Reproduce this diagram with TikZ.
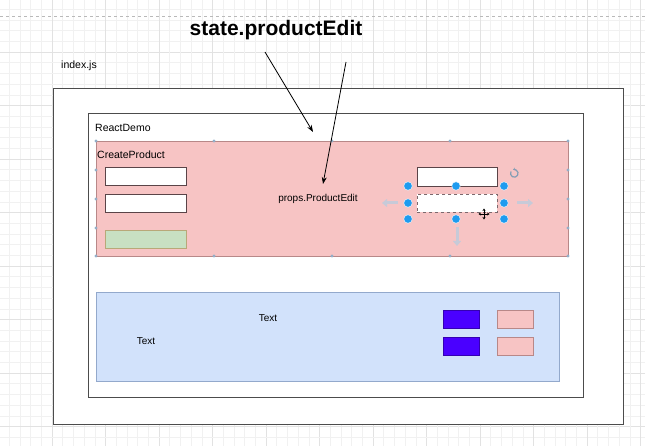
\documentclass[tikz,border=0pt]{standalone}
\usepackage{fontspec}
\setmainfont{Liberation Sans}
\usetikzlibrary{arrows.meta}
\definecolor{gridminor}{HTML}{F1F1F1}
\definecolor{gridmajor}{HTML}{E2E2E2}
\definecolor{pinkfill}{HTML}{F7C4C4}
\definecolor{pinkline}{HTML}{B88888}
\definecolor{bluefill}{HTML}{D2E2FB}
\definecolor{blueline}{HTML}{93A9CC}
\definecolor{greenfill}{HTML}{C8E0C2}
\definecolor{greenline}{HTML}{B8A878}
\definecolor{violet}{HTML}{4A00FF}
\definecolor{fieldline}{HTML}{5A4448}
\definecolor{handlec}{HTML}{1E9BEF}
\definecolor{dotc}{HTML}{92AEC8}
\definecolor{hintc}{HTML}{C7CAD8}

\begin{document}
\begin{tikzpicture}[x=1pt,y=-1pt,
	frame/.style={draw=black!70, fill=white, line width=0.9pt, anchor=north west, inner sep=0pt},
	panel/.style={anchor=north west, inner sep=0pt, line width=0.7pt},
	field/.style={draw=fieldline, fill=white, line width=0.9pt, anchor=north west, inner sep=0pt, minimum width=81, minimum height=18},
	chip/.style={anchor=north west, inner sep=0pt, line width=0.6pt, minimum width=36, minimum height=18},
	label/.style={font=\fontsize{10.5}{12}\selectfont, anchor=west, inner sep=0pt},
	handle/.style={circle, fill=handlec, draw=white, line width=0.4pt, inner sep=0pt, minimum size=8.5},
	conn/.style={-{Stealth[length=7pt,width=5pt]}, line width=0.8pt},
	hint/.style={-{Triangle[length=5pt,width=8pt]}, line width=3pt, hintc}]
	\useasboundingbox (0,0) rectangle (645,446);
	\fill[white] (0,0) rectangle (645,446);
	% background grid
	\foreach \i in {-5,...,56} {
		\pgfmathtruncatemacro{\m}{mod(\i+50,5)}
		\ifnum\m=0 \def\gc{gridmajor}\else \def\gc{gridminor}\fi
		\draw[\gc, line width=0.5pt] ({52+\i*10.7},0) -- ({52+\i*10.7},446);
		\draw[\gc, line width=0.5pt] (0,{52+\i*10.7}) -- (645,{52+\i*10.7});
	}
	\draw[gray!55, dashed, line width=0.5pt] (0,16) -- (645,16);

	\node[font=\bfseries\fontsize{21}{24}\selectfont] (title) at (276,30) {state.productEdit};
	\node[label] (indexlbl) at (61,66) {index.js};

	\node[frame, minimum width=570, minimum height=336] (index) at (53,88) {};
	\node[frame, minimum width=495, minimum height=284] (demo) at (88,113) {};
	\node[label] (demolbl) at (95,128) {ReactDemo};

	% CreateProduct
	\node[panel, draw=pinkline, fill=pinkfill, minimum width=472, minimum height=115] (create) at (96,141) {};
	\node[label] (createlbl) at (97,155) {CreateProduct};
	\node[field] (f1) at (105,167) {};
	\node[field] (f2) at (105,194) {};
	\node[field, draw=greenline, fill=greenfill] (save) at (105,230) {};
	\node[font=\fontsize{10}{12}\selectfont] (props) at (318,199) {props.ProductEdit};
	\node[field, minimum width=80, minimum height=19] (e1) at (417,167) {};
	\node[field, draw=fieldline!80, dashed, line width=0.7pt, minimum width=80] (e2) at (417,194) {};

	% selection dots on CreateProduct
	\foreach \x in {96,214,332,450,568} {
		\fill[dotc] (\x,141) circle (1.6);
		\fill[dotc] (\x,256) circle (1.6);
	}
	\foreach \y in {170,199,228} {
		\fill[dotc] (96,\y) circle (1.6);
		\fill[dotc] (568,\y) circle (1.6);
	}

	% hover arrows and handles round e2
	\coordinate (hl1) at (398,203); \coordinate (hl2) at (382,203);
	\coordinate (hr1) at (517,203); \coordinate (hr2) at (533,203);
	\coordinate (hd1) at (457,227); \coordinate (hd2) at (457,246);
	\draw[hint] (hl1) -- (hl2);
	\draw[hint] (hr1) -- (hr2);
	\draw[hint] (hd1) -- (hd2);
	\foreach \x/\y [count=\k] in {408/186,456/186,504/186,408/203,504/203,408/219,456/219,504/219}
		\node[handle] (h\k) at (\x,\y) {};
	\draw[dotc!90!black, line width=1.2pt, -{Stealth[length=2.5pt,width=3pt]}] (511,171.5) arc (210:-110:3.8);
	\coordinate (cur) at (484,214);
	\draw[{Stealth[length=2.5pt,width=3pt]}-{Stealth[length=2.5pt,width=3pt]}, line width=0.8pt] ([xshift=-5.5pt]cur) -- ([xshift=5.5pt]cur);
	\draw[{Stealth[length=2.5pt,width=3pt]}-{Stealth[length=2.5pt,width=3pt]}, line width=0.8pt] ([yshift=-5.5pt]cur) -- ([yshift=5.5pt]cur);

	% arrows from the state
	\coordinate (s1) at (265,52); \coordinate (t1) at (313,132);
	\coordinate (s2) at (346,62); \coordinate (t2) at (323,184);
	\draw[conn] (s1) -- (t1);
	\draw[conn] (s2) -- (t2);

	% lower panel
	\node[panel, draw=blueline, fill=bluefill, minimum width=463, minimum height=89] (list) at (96,292) {};
	\node[font=\fontsize{10}{12}\selectfont] (txt1) at (268,318) {Text};
	\node[font=\fontsize{10}{12}\selectfont] (txt2) at (146,341) {Text};
	\node[chip, draw=violet!70!black, fill=violet] (b1) at (443,310) {};
	\node[chip, draw=violet!70!black, fill=violet] (b2) at (443,337) {};
	\node[chip, draw=pinkline, fill=pinkfill] (p1) at (497,310) {};
	\node[chip, draw=pinkline, fill=pinkfill] (p2) at (497,337) {};
\end{tikzpicture}
\end{document}
